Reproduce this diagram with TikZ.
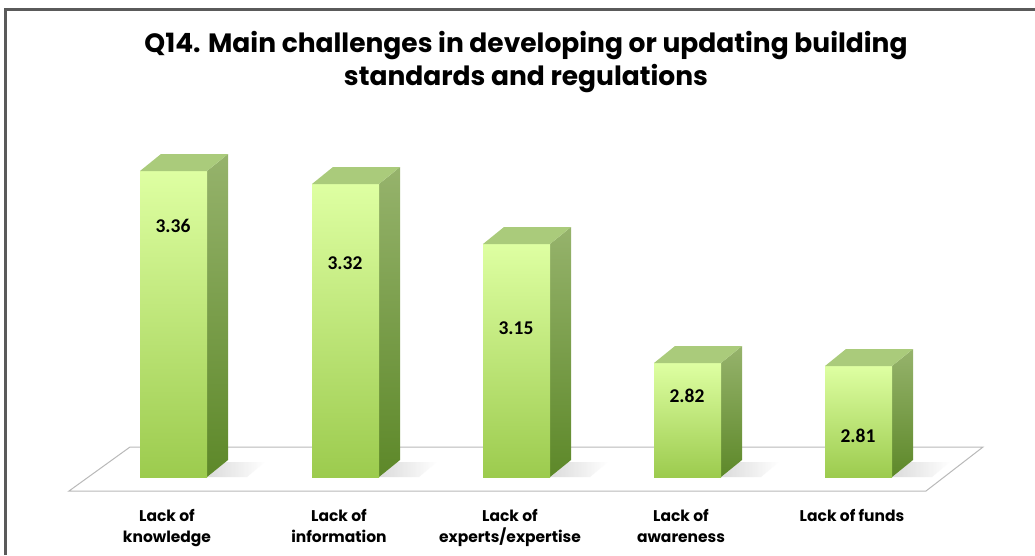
\documentclass[tikz,border=0pt]{standalone}
\usepackage{fontspec}
\setmainfont{Poppins}
\newfontfamily\numfont{Carlito}
\usetikzlibrary{calc,positioning}

\definecolor{barLight}{HTML}{DEFFA2}
\definecolor{barMid}{HTML}{CDF08A}
\definecolor{barDark}{HTML}{9CCB4E}
\definecolor{sideLight}{HTML}{96B36C}
\definecolor{sideDark}{HTML}{5D8829}
\definecolor{capFace}{HTML}{AACB7B}
\definecolor{frameGray}{HTML}{5A5A5A}

\tikzset{
    frontface/.style={top color=barLight, middle color=barMid, bottom color=barDark},
    sideface/.style={top color=sideLight, bottom color=sideDark},
    topface/.style={fill=capFace},
    value/.style={font=\numfont\bfseries\fontsize{19.5}{22}\selectfont},
    category/.style={font=\bfseries\fontsize{15.5}{21}\selectfont, align=center, anchor=north}
}

\begin{document}
\begin{tikzpicture}[x=1pt,y=-1pt]
    \useasboundingbox (0,0) rectangle (1035,555);

    % frame (top and left edge only)
    \draw[frameGray, line width=3pt] (5,555) -- (5,9) -- (1035,9);

    % title
    \node[font=\bfseries\fontsize{26.5}{33}\selectfont, align=center] (title) at (526,62)
        {Q14. Main challenges in developing or updating building\\standards and regulations};

    % floor
    \coordinate (fl1) at (69,491);
    \coordinate (fl2) at (130,447);
    \coordinate (fl3) at (983,447);
    \coordinate (fl4) at (926,491);
    \draw[gray!55, line width=1pt, fill=white] (fl1) -- (fl2) -- (fl3) -- (fl4) -- cycle;

    % bars: left edge / top / value / label height / category
    \foreach \x/\t/\v/\ly/\c [count=\i] in {140/171/3.36/226/{Lack of\\knowledge},
                                            312/184/3.32/263/{Lack of\\information},
                                            483/244/3.15/328/{Lack of\\experts/expertise},
                                            654/363/2.82/396/{Lack of\\awareness},
                                            825/366/2.81/436/{Lack of funds}} {
        % shadow on the floor
        \shade[left color=gray!35, right color=white, draw=none, opacity=0.8]
            (\x+67,477) -- (\x+85,462) -- (\x+125,462) -- (\x+107,477) -- cycle;
        % corners of the bar
        \coordinate (fa\i) at (\x,\t);
        \coordinate (fb\i) at (\x+67,\t);
        \coordinate (fc\i) at (\x+67,477);
        \coordinate (fd\i) at (\x,477);
        % faces
        \shade[sideface] (fb\i) -- ++(21,-17) -- ($(fc\i)+(21,-17)$) -- (fc\i) -- cycle;
        \shade[frontface] (fa\i) rectangle (fc\i);
        \fill[topface] (fa\i) -- ++(21,-17) -- ($(fb\i)+(21,-17)$) -- (fb\i) -- cycle;
        % labels
        \node[value] (val\i) at (\x+33,\ly) {\v};
        \node[category] (cat\i) at (\x+27,506) {\c};
    }
\end{tikzpicture}
\end{document}
